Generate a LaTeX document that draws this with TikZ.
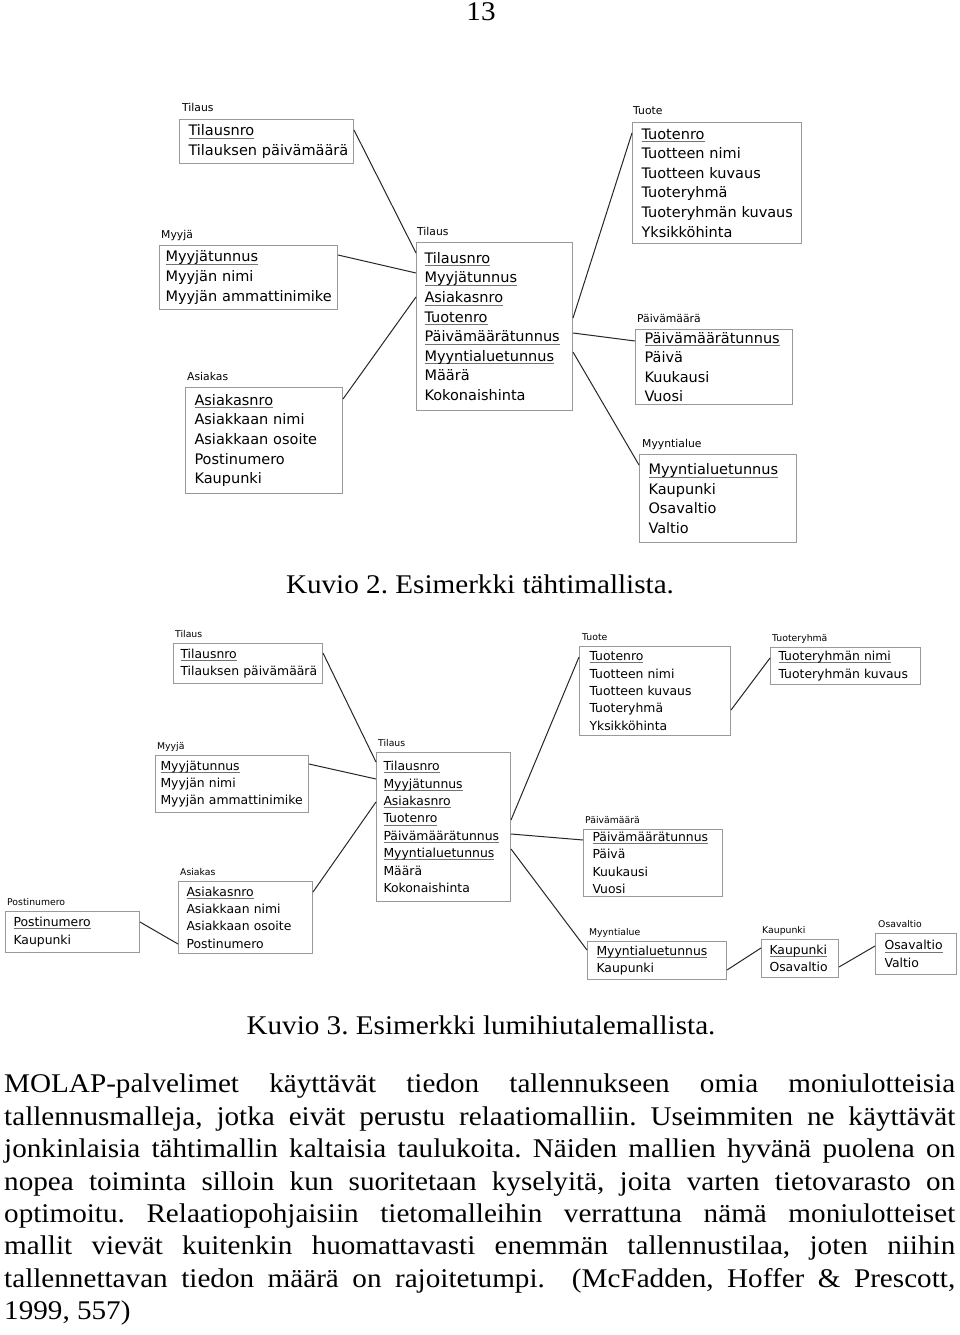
\documentclass[tikz,border=0pt]{standalone}
\usepackage{fontspec}
\setmainfont{Liberation Serif}[FakeStretch=1.08]
\newfontfamily\kaavio{DejaVu Sans}
\usetikzlibrary{positioning}
\tikzstyle{taulu} = [rectangle, draw=black!40, line width=1pt, anchor=north west, align=left, inner ysep=1pt]
\tikzstyle{tauluA} = [taulu, inner xsep=9pt, font=\kaavio\fontsize{14.5}{19.6}\selectfont]
\tikzstyle{tauluB} = [taulu, inner xsep=8pt, font=\kaavio\fontsize{12.4}{17.4}\selectfont]
\tikzstyle{nimiA} = [inner sep=0pt, font=\kaavio\fontsize{10.8}{12}\selectfont]
\tikzstyle{nimiB} = [inner sep=0pt, font=\kaavio\fontsize{9.3}{11}\selectfont]
\tikzstyle{viiva} = [line width=1pt, black!85]
\tikzstyle{teksti} = [inner sep=0pt, font=\fontsize{27}{32.4}\selectfont]
\newcommand{\avain}[1]{\leavevmode{\setbox0=\hbox{#1}\rlap{\color{black!55}\rule[-0.2em]{\wd0}{0.06em}}\box0}}

\begin{document}
\frenchspacing
\hyphenpenalty=10000
\exhyphenpenalty=10000
\hbadness=10000
\hfuzz=100pt
\begin{tikzpicture}[x=1pt, y=-1pt]
    \fill[white] (0,0) rectangle (960,1335);
    \useasboundingbox (0,0) rectangle (960,1335);

    \node (sivu) [teksti, anchor=base] at (481,21) {13};

    % Kuvio 2: tahtimalli
    \node (tilausA) [tauluA, text width=156pt, minimum height=44pt] at (179,119) {\avain{Tilausnro}\\Tilauksen~päivämäärä};
    \node (myyjaA) [tauluA, inner xsep=6pt, text width=166pt, minimum height=64pt] at (159,245) {\avain{Myyjätunnus}\\Myyjän~nimi\\Myyjän~ammattinimike};
    \node (asiakasA) [tauluA, text width=139pt, minimum height=106pt] at (185,387) {\avain{Asiakasnro}\\Asiakkaan~nimi\\Asiakkaan~osoite\\Postinumero\\Kaupunki};
    \node (keskusA) [tauluA, inner xsep=8pt, text width=140pt, minimum height=168pt] at (416,242) {\avain{Tilausnro}\\\avain{Myyjätunnus}\\\avain{Asiakasnro}\\\avain{Tuotenro}\\\avain{Päivämäärätunnus}\\\avain{Myyntialuetunnus}\\Määrä\\Kokonaishinta};
    \node (tuoteA) [tauluA, text width=151pt, minimum height=121pt] at (632,122) {\avain{Tuotenro}\\Tuotteen~nimi\\Tuotteen~kuvaus\\Tuoteryhmä\\Tuoteryhmän~kuvaus\\Yksikköhinta};
    \node (paivaA) [tauluA, text width=139pt, minimum height=75pt] at (635,329) {\avain{Päivämäärätunnus}\\Päivä\\Kuukausi\\Vuosi};
    \node (myyntiA) [tauluA, text width=139pt, minimum height=88pt] at (639,454) {\avain{Myyntialuetunnus}\\Kaupunki\\Osavaltio\\Valtio};

    \node (tilausAnimi) [nimiA, above right=7pt and 3pt of tilausA.north west, anchor=base west] {Tilaus};
    \node (myyjaAnimi) [nimiA, above right=7pt and 2pt of myyjaA.north west, anchor=base west] {Myyjä};
    \node (asiakasAnimi) [nimiA, above right=7pt and 2pt of asiakasA.north west, anchor=base west] {Asiakas};
    \node (keskusAnimi) [nimiA, above right=7pt and 1pt of keskusA.north west, anchor=base west] {Tilaus};
    \node (tuoteAnimi) [nimiA, above right=7pt and 1pt of tuoteA.north west, anchor=base west] {Tuote};
    \node (paivaAnimi) [nimiA, above right=7pt and 2pt of paivaA.north west, anchor=base west] {Päivämäärä};
    \node (myyntiAnimi) [nimiA, above right=7pt and 3pt of myyntiA.north west, anchor=base west] {Myyntialue};

    \draw [viiva] ([yshift=-11pt]tilausA.north east) -- ([yshift=-11pt]keskusA.north west);
    \draw [viiva] ([yshift=-10pt]myyjaA.north east) -- ([yshift=-31pt]keskusA.north west);
    \draw [viiva] ([yshift=-12pt]asiakasA.north east) -- ([yshift=-55pt]keskusA.north west);
    \draw [viiva] ([yshift=-76pt]keskusA.north east) -- ([yshift=-11pt]tuoteA.north west);
    \draw [viiva] ([yshift=-91pt]keskusA.north east) -- ([yshift=-12pt]paivaA.north west);
    \draw [viiva] ([yshift=-110pt]keskusA.north east) -- ([yshift=-11pt]myyntiA.north west);

    \node (kuvio2) [teksti, anchor=base] at (480,593) {Kuvio 2. Esimerkki tähtimallista.};

    % Kuvio 3: lumihiutalemalli
    \node (tilausB) [tauluB, inner xsep=7pt, text width=135pt, minimum height=40pt] at (173,643) {\avain{Tilausnro}\\Tilauksen~päivämäärä};
    \node (myyjaB) [tauluB, inner xsep=5pt, text width=143pt, minimum height=57pt] at (155,755) {\avain{Myyjätunnus}\\Myyjän~nimi\\Myyjän~ammattinimike};
    \node (asiakasB) [tauluB, text width=118pt, minimum height=72pt] at (178,881) {\avain{Asiakasnro}\\Asiakkaan~nimi\\Asiakkaan~osoite\\Postinumero};
    \node (postiB) [tauluB, text width=118pt, minimum height=41pt] at (5,911) {\avain{Postinumero}\\Kaupunki};
    \node (keskusB) [tauluB, inner xsep=7pt, text width=120pt, minimum height=149pt] at (376,752) {\avain{Tilausnro}\\\avain{Myyjätunnus}\\\avain{Asiakasnro}\\\avain{Tuotenro}\\\avain{Päivämäärätunnus}\\\avain{Myyntialuetunnus}\\Määrä\\Kokonaishinta};
    \node (tuoteB) [tauluB, inner xsep=10pt, text width=131pt, minimum height=89pt] at (579,646) {\avain{Tuotenro}\\Tuotteen~nimi\\Tuotteen~kuvaus\\Tuoteryhmä\\Yksikköhinta};
    \node (tuoteryhmaB) [tauluB, text width=134pt, minimum height=37pt] at (770,647) {\avain{Tuoteryhmän~nimi}\\Tuoteryhmän~kuvaus};
    \node (paivaB) [tauluB, inner xsep=9pt, text width=121pt, minimum height=67pt] at (583,829) {\avain{Päivämäärätunnus}\\Päivä\\Kuukausi\\Vuosi};
    \node (myyntiB) [tauluB, inner xsep=9pt, text width=121pt, minimum height=38pt] at (587,941) {\avain{Myyntialuetunnus}\\Kaupunki};
    \node (kaupunkiB) [tauluB, text width=61pt, minimum height=38pt] at (761,939) {\avain{Kaupunki}\\Osavaltio};
    \node (osavaltioB) [tauluB, inner xsep=9pt, text width=63pt, minimum height=41pt] at (875,933) {\avain{Osavaltio}\\Valtio};

    \node (tilausBnimi) [nimiB, above right=6pt and 2pt of tilausB.north west, anchor=base west] {Tilaus};
    \node (myyjaBnimi) [nimiB, above right=6pt and 2pt of myyjaB.north west, anchor=base west] {Myyjä};
    \node (asiakasBnimi) [nimiB, above right=6pt and 2pt of asiakasB.north west, anchor=base west] {Asiakas};
    \node (postiBnimi) [nimiB, above right=6pt and 2pt of postiB.north west, anchor=base west] {Postinumero};
    \node (keskusBnimi) [nimiB, above right=6pt and 2pt of keskusB.north west, anchor=base west] {Tilaus};
    \node (tuoteBnimi) [nimiB, above right=6pt and 3pt of tuoteB.north west, anchor=base west] {Tuote};
    \node (tuoteryhmaBnimi) [nimiB, above right=6pt and 2pt of tuoteryhmaB.north west, anchor=base west] {Tuoteryhmä};
    \node (paivaBnimi) [nimiB, above right=6pt and 2pt of paivaB.north west, anchor=base west] {Päivämäärä};
    \node (myyntiBnimi) [nimiB, above right=6pt and 2pt of myyntiB.north west, anchor=base west] {Myyntialue};
    \node (kaupunkiBnimi) [nimiB, above right=6pt and 1pt of kaupunkiB.north west, anchor=base west] {Kaupunki};
    \node (osavaltioBnimi) [nimiB, above right=6pt and 3pt of osavaltioB.north west, anchor=base west] {Osavaltio};

    \draw [viiva] ([yshift=-10pt]tilausB.north east) -- ([yshift=-10pt]keskusB.north west);
    \draw [viiva] ([yshift=-9pt]myyjaB.north east) -- ([yshift=-27pt]keskusB.north west);
    \draw [viiva] ([yshift=-11pt]asiakasB.north east) -- ([yshift=-50pt]keskusB.north west);
    \draw [viiva] ([yshift=-11pt]postiB.north east) -- ([yshift=-63pt]asiakasB.north west);
    \draw [viiva] ([yshift=-68pt]keskusB.north east) -- ([yshift=-11pt]tuoteB.north west);
    \draw [viiva] ([yshift=-64pt]tuoteB.north east) -- ([yshift=-11pt]tuoteryhmaB.north west);
    \draw [viiva] ([yshift=-82pt]keskusB.north east) -- ([yshift=-11pt]paivaB.north west);
    \draw [viiva] ([yshift=-97pt]keskusB.north east) -- ([yshift=-9pt]myyntiB.north west);
    \draw [viiva] ([yshift=-29pt]myyntiB.north east) -- ([yshift=-9pt]kaupunkiB.north west);
    \draw [viiva] ([yshift=-28pt]kaupunkiB.north east) -- ([yshift=-13pt]osavaltioB.north west);

    \node (kuvio3) [teksti, anchor=base] at (481,1034) {Kuvio 3. Esimerkki lumihiutalemallista.};

    % Leipateksti
    \node (kappale) [teksti, anchor=north west, text width=951pt, align=justify] at (4,1074) {\tolerance=9999\emergencystretch=30pt
      MOLAP-palvelimet käyttävät tiedon tallennukseen omia moniulotteisia\linebreak
      tallennusmalleja, jotka eivät perustu relaatiomalliin. Useimmiten ne käyttävät\linebreak
      jonkinlaisia tähtimallin kaltaisia taulukoita. Näiden mallien hyvänä puolena on\linebreak
      nopea toiminta silloin kun suoritetaan kyselyitä, joita varten tietovarasto on\linebreak
      optimoitu. Relaatiopohjaisiin tietomalleihin verrattuna nämä moniulotteiset\linebreak
      mallit vievät kuitenkin huomattavasti enemmän tallennustilaa, joten niihin\linebreak
      tallennettavan tiedon määrä on rajoitetumpi.\ \ (McFadden, Hoffer \& Prescott,\linebreak
      1999, 557)};
\end{tikzpicture}
\end{document}
